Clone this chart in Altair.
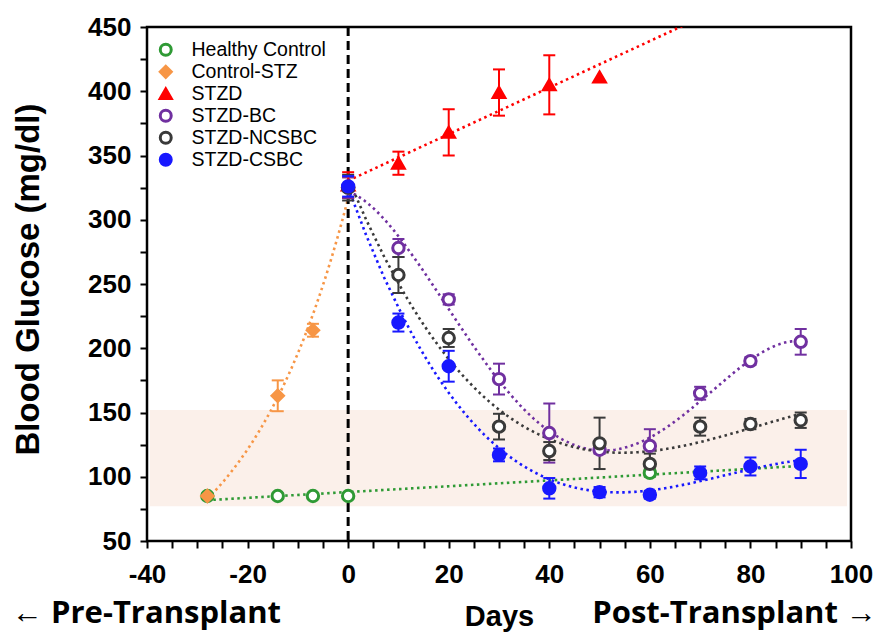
import altair as alt
import pandas as pd

# ---------------- data ----------------
series_names = ["Healthy Control", "Control-STZ", "STZD", "STZD-BC", "STZD-NCSBC", "STZD-CSBC"]
series_colors = ["#2f9a35", "#f79646", "#ff0000", "#7030a0", "#3a3a3a", "#1818ff"]
series_fills = ["white", "#f79646", "#ff0000", "white", "white", "#1818ff"]
series_shapes = ["circle", "diamond", "triangle-up", "circle", "circle", "circle"]

healthy_days = [-28, -14, -7, 0, 60]
healthy_glu = [85, 85, 85, 85, 103]
healthy_err = [2, 2, 2, 2, 3]

ctrlstz_days = [-28, -14, -7, 0]
ctrlstz_glu = [85, 163, 214, 325]
ctrlstz_err = [2, 12, 5, 8]

stzd_days = [0, 10, 20, 30, 40, 50]
stzd_glu = [327, 344, 368, 399, 405, 411]
stzd_err = [10, 9, 18, 18, 23, 0]

post_days = [0, 10, 20, 30, 40, 50, 60, 70, 80, 90]
bc_glu = [325, 278, 238, 176, 134, 121, 124, 165, 190, 205]
bc_err = [8, 7, 4, 12, 23, 3, 13, 5, 3, 10]
ncsbc_glu = [325, 257, 208, 139, 120, 126, 110, 139, 141, 144]
ncsbc_err = [10, 14, 7, 10, 7, 20, 8, 7, 4, 6]
csbc_glu = [326, 220, 186, 117, 91, 88, 86, 103, 108, 110]
csbc_err = [8, 7, 12, 5, 8, 4, 3, 5, 7, 11]

band_lo = [77]
band_hi = [152]
zero_day = [0]

x_ticks = [-40, -35, -30, -25, -20, -15, -10, -5, 0, 5, 10, 15, 20, 25, 30, 35, 40,
           45, 50, 55, 60, 65, 70, 75, 80, 85, 90, 95, 100]
y_ticks = [50, 75, 100, 125, 150, 175, 200, 225, 250, 275, 300, 325, 350, 375, 400, 425, 450]

# ---------------- tables ----------------
def tbl(name, days, glu, err):
    return pd.DataFrame({"series": name, "day": days, "glu": glu,
                         "lo": [g - e for g, e in zip(glu, err)],
                         "hi": [g + e for g, e in zip(glu, err)]})

df = pd.concat([
    tbl("Healthy Control", healthy_days, healthy_glu, healthy_err),
    tbl("Control-STZ", ctrlstz_days, ctrlstz_glu, ctrlstz_err),
    tbl("STZD", stzd_days, stzd_glu, stzd_err),
    tbl("STZD-BC", post_days, bc_glu, bc_err),
    tbl("STZD-NCSBC", post_days, ncsbc_glu, ncsbc_err),
    tbl("STZD-CSBC", post_days, csbc_glu, csbc_err),
], ignore_index=True)
df_err = df[df["hi"] > df["lo"]]

band_df = pd.DataFrame({"b_lo": band_lo, "b_hi": band_hi})
zero_df = pd.DataFrame({"day": zero_day})

W, H = 704, 514
BOLD = "Liberation Sans"

xscale = alt.Scale(domain=[-40, 100], nice=False, zero=False)
yscale = alt.Scale(domain=[50, 450], nice=False, zero=False)

xaxis = alt.Axis(values=x_ticks, labelExpr="datum.value % 20 == 0 ? '' + datum.value : ''",
                 title="Days", titleFont=BOLD, titleFontSize=29, titleFontWeight="bold",
                 titleX=352, titleY=84, titleBaseline="alphabetic", titleAlign="center",
                 titleColor="black",
                 labelFont=BOLD, labelFontSize=26, labelFontWeight="bold", labelColor="black",
                 labelPadding=13, labelFlush=False, labelOverlap=False,
                 tickSize=7, tickWidth=2, tickColor="black", domain=False, grid=False)
yaxis = alt.Axis(values=y_ticks, labelExpr="datum.value % 50 == 0 ? '' + datum.value : ''",
                 title="Blood Glucose (mg/dl)", titleFont=BOLD, titleFontSize=33,
                 titleFontWeight="bold", titleX=-119, titleY=252, titleAngle=-90,
                 titleAlign="center", titleBaseline="middle", titleColor="black",
                 labelFont=BOLD, labelFontSize=26, labelFontWeight="bold", labelColor="black",
                 labelPadding=9, labelFlush=False, labelOverlap=False,
                 tickSize=7, tickWidth=2, tickColor="black", domain=False, grid=False)

leg = alt.Legend(title=None, orient="none", legendX=9, legendY=12)
stroke_scale = alt.Scale(domain=series_names, range=series_colors)
S = alt.Stroke("series:N", scale=stroke_scale, legend=leg)

# shaded normoglycemic band
band = alt.Chart(band_df).mark_rect(color="#fbf0ea").encode(
    x=alt.value(3), x2=alt.value(W - 4),
    y=alt.Y("b_lo:Q", scale=yscale, axis=yaxis), y2="b_hi:Q")

base = alt.Chart(df)
X = alt.X("day:Q", scale=xscale, axis=xaxis)
Y = alt.Y("glu:Q", scale=yscale, axis=yaxis)
line_kw = dict(strokeDash=[2.5, 3.5], strokeWidth=2.6, clip=True)

def fit(names, **reg):
    return base.transform_filter(
        alt.FieldOneOfPredicate(field="series", oneOf=names)
    ).transform_regression("day", "glu", groupby=["series"], **reg).mark_line(**line_kw).encode(
        x=X, y=Y, stroke=S)

fit_green = fit(["Healthy Control"], method="linear", extent=[-28, 90])
fit_orange = fit(["Control-STZ"], method="exp", extent=[-28, 0])
fit_red = fit(["STZD"], method="linear", extent=[0, 100])
fit_bc = fit(["STZD-BC"], method="poly", order=4, extent=[0, 90])
fit_nc = fit(["STZD-NCSBC", "STZD-CSBC"], method="poly", order=3, extent=[0, 90])

zero_rule = alt.Chart(zero_df).mark_rule(color="black", strokeWidth=3, strokeDash=[9, 5]).encode(
    x=alt.X("day:Q", scale=xscale, axis=xaxis))

err_rules = alt.Chart(df_err).mark_rule(strokeWidth=2).encode(
    x=X, y=alt.Y("lo:Q", scale=yscale, axis=yaxis), y2="hi:Q", stroke=S)
err_lo = alt.Chart(df_err).mark_rule(strokeWidth=2, xOffset=-6, x2Offset=6).encode(
    x=X, x2="day:Q", y=alt.Y("lo:Q", scale=yscale, axis=yaxis), stroke=S)
err_hi = alt.Chart(df_err).mark_rule(strokeWidth=2, xOffset=-6, x2Offset=6).encode(
    x=X, x2="day:Q", y=alt.Y("hi:Q", scale=yscale, axis=yaxis), stroke=S)

points = base.mark_point(size=130, strokeWidth=3, opacity=1).encode(
    x=X, y=Y,
    stroke=S,
    fill=alt.Fill("series:N", scale=alt.Scale(domain=series_names, range=series_fills),
                  legend=leg),
    shape=alt.Shape("series:N", scale=alt.Scale(domain=series_names, range=series_shapes),
                    legend=leg),
)

ann_df = pd.DataFrame({"label": ["\u2190 Pre-Transplant", "Post-Transplant \u2192"],
                       "side": ["left", "right"]})
ann_left = alt.Chart(ann_df[ann_df.side == "left"]).mark_text(
    align="left", baseline="alphabetic", font="Open Sans", fontSize=31, fontWeight="bold",
    color="black").encode(text="label:N", x=alt.value(-135), y=alt.value(H + 82))
ann_right = alt.Chart(ann_df[ann_df.side == "right"]).mark_text(
    align="right", baseline="alphabetic", font="Open Sans", fontSize=31, fontWeight="bold",
    color="black").encode(text="label:N", x=alt.value(W + 26), y=alt.value(H + 82))

chart = alt.layer(band, fit_green, fit_orange, fit_red, fit_bc, fit_nc, zero_rule,
                  err_rules, err_lo, err_hi, points, ann_left, ann_right).properties(
    width=W, height=H,
    background="white",
    autosize=alt.AutoSizeParams(type="none"),
    padding={"left": 147, "top": 27, "right": 30, "bottom": 93},
).configure_view(stroke="black", strokeWidth=2.5).configure_legend(
    orient="none", legendX=9, legendY=12, padding=0,
    labelFont="Liberation Sans", labelFontSize=19.5, labelColor="black",
    symbolSize=120, symbolStrokeWidth=3, rowPadding=0, clipHeight=21.6, labelOffset=16,
)

chart.save("out.html", embed_options={"renderer": "svg", "actions": False})
